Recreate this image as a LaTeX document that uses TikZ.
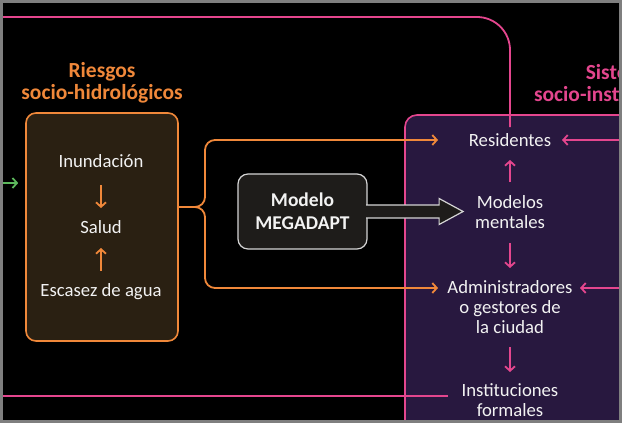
\documentclass[tikz,border=0pt]{standalone}
\usepackage{fontspec}
\setmainfont{Carlito}
\usepackage{tikz}
\usetikzlibrary{arrows.meta,positioning,calc}

\definecolor{riskorange}{HTML}{F0883A}
\definecolor{riskbrown}{HTML}{2A2012}
\definecolor{instpink}{HTML}{E4468E}
\definecolor{instpurple}{HTML}{28183F}
\definecolor{modelgray}{HTML}{1E1C1A}
\definecolor{modelline}{HTML}{D4D4D4}
\definecolor{linkgreen}{HTML}{5CB85C}
\definecolor{textwhite}{HTML}{F2F2F2}
\definecolor{framegray}{HTML}{7F7F7F}

\begin{document}
\begin{tikzpicture}[
    x=1pt, y=-1pt,
    font=\fontsize{18.7}{20}\selectfont,
    smalltip/.style={-{Straight Barb[length=4.5pt,width=10pt]}},
    orangelink/.style={smalltip, draw=riskorange, line width=1.8pt},
    pinklink/.style={smalltip, draw=instpink, line width=1.8pt},
    pinkline/.style={draw=instpink, line width=1.8pt},
    greenlink/.style={smalltip, draw=linkgreen, line width=1.8pt},
    itemtext/.style={text=textwhite, align=center, inner sep=0pt},
    grouptitle/.style={font=\fontsize{21.5}{22.5}\selectfont\bfseries, align=center, inner sep=0pt},
    riskbox/.style={draw=riskorange, fill=riskbrown, line width=1.6pt, rounded corners=10pt,
        minimum width=152pt, minimum height=228pt},
    instframe/.style={draw=instpink, fill=instpurple, line width=1.6pt, rounded corners=12pt},
    modelbox/.style={draw=modelline, fill=modelgray, line width=1.2pt, rounded corners=10pt,
        minimum width=129pt, minimum height=75pt, align=center, text=textwhite,
        font=\fontsize{19.5}{23}\selectfont\bfseries},
    modelarrow/.style={draw=modelline, fill=modelgray, line width=1.2pt, line join=miter}
]
    % Canvas (622 x 423 px, y grows downwards)
    \useasboundingbox (0,0) rectangle (622,423);
    \clip (0,0) rectangle (622,423);
    \fill[black] (0,0) rectangle (622,423);

    % Socio-institutional system (cut by the right edge)
    \draw[instframe] (405,115) rectangle (660,460);
    \node[grouptitle, text=instpink] (insttitle) at (625,83) {Sistemas\\socio-institucionales};

    % Socio-hydrological risks
    \node[grouptitle, text=riskorange] (risktitle) at (102,83) {Riesgos\\socio-hidrológicos};
    \node[riskbox] (riesgos) at (102,227) {};
    \node[itemtext] (inun) at (101,161) {Inundación};
    \node[itemtext] (salud) at (101,227) {Salud};
    \node[itemtext] (escasez) at (101,292) {Escasez de agua};
    \draw[orangelink, shorten <=24pt, shorten >=19pt] (inun.center) -- (salud.center);
    \draw[orangelink, shorten <=21pt, shorten >=21pt] (escasez.center) -- (salud.center);

    % Actors
    \node[itemtext] (res) at (510,140) {Residentes};
    \node[itemtext] (mm) at (510,212) {Modelos\\mentales};
    \node[itemtext] (adm) at (510,307) {Administradores\\o gestores de\\la ciudad};
    \node[itemtext] (inst) at (510,400) {Instituciones\\formales};
    \draw[pinklink, shorten <=30pt, shorten >=20pt] (mm.center) -- (res.center);
    \draw[pinklink, shorten <=31pt, shorten >=39pt] (mm.center) -- (adm.center);
    \draw[pinklink, shorten <=40pt, shorten >=28pt] (adm.center) -- (inst.center);

    % Brace from the risks to the actors
    \coordinate (split) at (205,207);
    \coordinate (admline) at (0,288);
    \draw[orangelink, rounded corners=10pt, shorten >=72pt]
        (riesgos.east |- split) -- (split) |- (res.center);
    \draw[orangelink, rounded corners=10pt, shorten >=72pt]
        (riesgos.east |- split) -- (split) |- (adm |- admline);

    % Model
    \node[modelbox] (megadapt) at (302.5,211.5) {Modelo\\MEGADAPT};
    \draw[modelarrow] ($(megadapt.east)+(-1.5,-6.5)$) -- ++(73,0) -- ++(0,-6.5)
        -- ++(24,13) -- ++(-24,13) -- ++(0,-6.5) -- ++(-73,0);

    % Links coming from outside the frame
    \coordinate (resright) at (626,140);
    \coordinate (admright) at (626,288);
    \coordinate (topleft) at (-5,17);
    \coordinate (lowline) at (-5,396);
    \coordinate (greenin) at (-5,183);
    \draw[pinklink, shorten >=52pt] (resright) -- (res.center);
    \draw[pinklink, shorten >=70pt] (admright) -- (adm |- admline);
    \draw[pinkline, rounded corners=33pt, shorten >=13pt] (topleft) -| (res.center);
    \draw[pinkline, shorten >=62pt] (lowline) -- (inst.center |- lowline);
    \draw[greenlink, shorten >=7pt] (greenin) -- (riesgos.west |- greenin);

    % Screenshot frame
    \draw[framegray, line width=3pt] (1.5,1.5) rectangle (620.5,421.5);
\end{tikzpicture}
\end{document}
